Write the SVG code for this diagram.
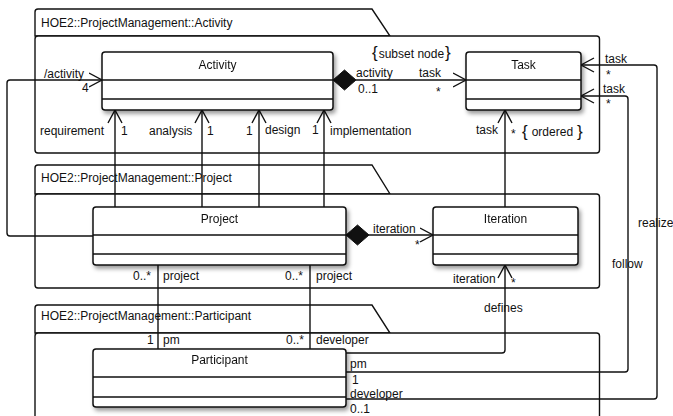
<svg xmlns="http://www.w3.org/2000/svg" width="673" height="416" viewBox="0 0 673 416">
<style>
text{font-family:"Liberation Sans",Arial,sans-serif;font-size:12px;fill:#111}
.c{text-anchor:middle}
.pkg{fill:#fff;stroke:#111;stroke-width:1.4}
.cls{fill:#fff;stroke:#111;stroke-width:1.5}
.ln{fill:none;stroke:#111;stroke-width:1.4}
.con{fill:none;stroke:#111;stroke-width:1.4}
.br{font-size:17px}
</style>
<defs>
<marker id="open" viewBox="0 0 14 16" refX="13.5" refY="8" markerWidth="14" markerHeight="16" markerUnits="userSpaceOnUse" orient="auto">
<path d="M0.5,1 L13.5,8 L0.5,15" fill="none" stroke="#111" stroke-width="1.4"/>
</marker>
<filter id="sh" x="-10%" y="-20%" width="130%" height="160%">
<feDropShadow dx="2" dy="3" stdDeviation="2" flood-color="#000" flood-opacity="0.4"/>
</filter>
</defs>

<g id="pkg-activity">
<path class="pkg" d="M35,36 L35,12 Q35,9 38,9 L372,9 L390,36 Z"/>
<rect class="pkg" x="35" y="36" width="564.5" height="117" rx="3"/>
<text x="41" y="27">HOE2::ProjectManagement::Activity</text>
</g>
<g id="pkg-project">
<path class="pkg" d="M35,194 L35,168 Q35,165 38,165 L372,165 L390,194 Z"/>
<rect class="pkg" x="35" y="194" width="564.5" height="94" rx="3"/>
<text x="41" y="182">HOE2::ProjectManagement::Project</text>
</g>
<g id="pkg-participant">
<path class="pkg" d="M35,333 L35,308 Q35,305 38,305 L372,305 L390,333 Z"/>
<rect class="pkg" x="35" y="333" width="564.5" height="100" rx="3"/>
<text x="41" y="320">HOE2::ProjectManagement::Participant</text>
</g>

<g id="connectors">
<path class="con" d="M93,236 L10,236 Q7,236 7,233 L7,83 Q7,80 10,80 L102,80" marker-end="url(#open)"/>
<line class="con" x1="115" y1="207" x2="115" y2="110" marker-end="url(#open)"/>
<line class="con" x1="202" y1="207" x2="202" y2="110" marker-end="url(#open)"/>
<line class="con" x1="259" y1="207" x2="259" y2="110" marker-end="url(#open)"/>
<line class="con" x1="324" y1="207" x2="324" y2="110" marker-end="url(#open)"/>
<line class="con" x1="356" y1="80" x2="466" y2="80" marker-end="url(#open)"/>
<polygon points="333,80 344.5,70 356,80 344.5,90" fill="#111" stroke="#111" stroke-width="1"/>
<line class="con" x1="505" y1="207" x2="505" y2="110" marker-end="url(#open)"/>
<line class="con" x1="369" y1="235" x2="433" y2="235" marker-end="url(#open)"/>
<polygon points="346,235 357.5,225 369,235 357.5,245" fill="#111" stroke="#111" stroke-width="1"/>
<path class="con" d="M346,353 L502,353 Q505,353 505,350 L505,265" marker-end="url(#open)"/>
<line class="con" x1="158" y1="265" x2="158" y2="349"/>
<line class="con" x1="310" y1="265" x2="310" y2="349"/>
<path class="con" d="M346,372 L625,372 Q628,372 628,369 L628,99 Q628,96 625,96 L581,96" marker-end="url(#open)"/>
<path class="con" d="M346,399 L654,399 Q657,399 657,396 L657,68 Q657,65 654,65 L581,65" marker-end="url(#open)"/>
</g>

<g id="labels">
<text x="44" y="78">/activity</text>
<text x="82" y="92">4</text>
<text x="40" y="135">requirement</text>
<text x="121" y="135">1</text>
<text x="149" y="135">analysis</text>
<text x="207" y="135">1</text>
<text x="246" y="135">1</text>
<text x="265" y="134">design</text>
<text x="312" y="134">1</text>
<text x="330" y="135">implementation</text>
<text x="372" y="58"><tspan class="br">{</tspan><tspan dx="1">subset node</tspan><tspan class="br" dx="1">}</tspan></text>
<text x="356" y="77">activity</text>
<text x="358" y="93">0..1</text>
<text x="419" y="77">task</text>
<text x="436" y="96">*</text>
<text x="605" y="63">task</text>
<text x="606" y="79">*</text>
<text x="603" y="93">task</text>
<text x="606" y="108">*</text>
<text x="476" y="134">task</text>
<text x="511" y="138">*</text>
<text x="522" y="137"><tspan class="br">{</tspan><tspan dx="4" y="136">ordered</tspan><tspan class="br" dx="4" y="137">}</tspan></text>
<text x="373" y="233">iteration</text>
<text x="415" y="249">*</text>
<text x="453" y="283">iteration</text>
<text x="511" y="287">*</text>
<text x="133" y="280">0..*</text>
<text x="163" y="280">project</text>
<text x="285" y="280">0..*</text>
<text x="316" y="280">project</text>
<text x="638" y="227">realize</text>
<text x="612" y="268">follow</text>
<text x="484" y="312">defines</text>
<text x="147" y="344">1</text>
<text x="163" y="344">pm</text>
<text x="286" y="344">0..*</text>
<text x="316" y="344">developer</text>
<text x="350" y="368">pm</text>
<text x="352" y="384">1</text>
<text x="350" y="398">developer</text>
<text x="350" y="413">0..1</text>
</g>

<g id="Activity" filter="url(#sh)">
<rect class="cls" x="102" y="52" width="231" height="58" rx="3"/>
<line class="ln" x1="102" y1="80" x2="333" y2="80"/>
<line class="ln" x1="102" y1="99" x2="333" y2="99"/>
<text class="c" x="217.5" y="69">Activity</text>
</g>
<g id="Task" filter="url(#sh)">
<rect class="cls" x="466" y="52" width="115" height="58" rx="3"/>
<line class="ln" x1="466" y1="80" x2="581" y2="80"/>
<line class="ln" x1="466" y1="99" x2="581" y2="99"/>
<text class="c" x="523.5" y="69">Task</text>
</g>
<g id="Project" filter="url(#sh)">
<rect class="cls" x="93" y="207" width="253" height="58" rx="3"/>
<line class="ln" x1="93" y1="235" x2="346" y2="235"/>
<line class="ln" x1="93" y1="254" x2="346" y2="254"/>
<text class="c" x="219.5" y="223">Project</text>
</g>
<g id="Iteration" filter="url(#sh)">
<rect class="cls" x="433" y="207" width="145" height="58" rx="3"/>
<line class="ln" x1="433" y1="235" x2="578" y2="235"/>
<line class="ln" x1="433" y1="254" x2="578" y2="254"/>
<text class="c" x="505.5" y="223">Iteration</text>
</g>
<g id="Participant" filter="url(#sh)">
<rect class="cls" x="93" y="349" width="253" height="58" rx="3"/>
<line class="ln" x1="93" y1="377" x2="346" y2="377"/>
<line class="ln" x1="93" y1="397" x2="346" y2="397"/>
<text class="c" x="219.5" y="364">Participant</text>
</g>
</svg>
